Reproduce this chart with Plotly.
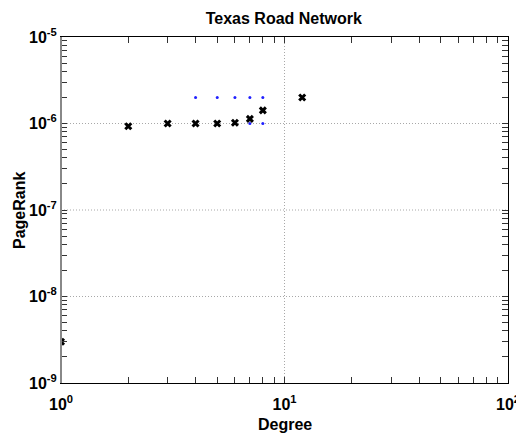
import plotly.graph_objects as go

# dados
degree = [1, 2, 3, 4, 5, 6, 7, 8, 12]
pagerank = [3.0e-9, 9.3e-7, 1.0e-6, 1.0e-6, 1.0e-6, 1.02e-6, 1.13e-6, 1.42e-6, 2.0e-6]

range_degree = [2, 4, 5, 6, 7, 8, 7, 8]
range_pagerank = [9.3e-7, 2.0e-6, 2.0e-6, 2.0e-6, 2.0e-6, 2.0e-6, 1.0e-6, 1.0e-6]

x_ticks = [1, 10, 100]
x_ticklabels = ["<b>10<sup>0</sup></b>", "<b>10<sup>1</sup></b>", "<b>10<sup>2</sup></b>"]
y_ticks = [1e-9, 1e-8, 1e-7, 1e-6, 1e-5]
y_ticklabels = ["<b>10<sup>-9</sup></b>", "<b>10<sup>-8</sup></b>", "<b>10<sup>-7</sup></b>",
                "<b>10<sup>-6</sup></b>", "<b>10<sup>-5</sup></b>"]

x_minor = [m * 10 ** k for k in range(0, 2) for m in range(2, 10)]
y_minor = [m * 10.0 ** k for k in range(-9, -5) for m in range(2, 10)]

fig = go.Figure()

fig.add_trace(go.Scatter(
    x=range_degree, y=range_pagerank, mode='markers',
    marker=dict(symbol='circle', size=3, color='#2020ff'),
    showlegend=False
))

fig.add_trace(go.Scatter(
    x=degree, y=pagerank, mode='markers',
    marker=dict(symbol='x-thin', size=6, color='black',
                line=dict(width=3, color='black')),
    showlegend=False
))

tick_font = dict(family='Liberation Sans, Arial', size=16, color='black')

# marcas maiores e menores no mesmo eixo; texto vazio nas menores
x_all = x_ticks + x_minor
x_text = x_ticklabels + [''] * len(x_minor)
y_all = y_ticks + y_minor
y_text = y_ticklabels + [''] * len(y_minor)

# grade pontilhada só nas décadas
shapes = []
for v in x_ticks[1:-1]:
    shapes.append(dict(type='line', xref='x', yref='paper', x0=v, x1=v, y0=0, y1=1,
                       line=dict(color='#a8a8a8', width=1, dash='1px,2px'), layer='below'))
for v in y_ticks[1:-1]:
    shapes.append(dict(type='line', xref='paper', yref='y', x0=0, x1=1, y0=v, y1=v,
                       line=dict(color='#a8a8a8', width=1, dash='1px,2px'), layer='below'))
# eixo esquerdo cinza
shapes.append(dict(type='line', xref='paper', yref='paper', x0=0, x1=0, y0=0, y1=1,
                   line=dict(color='#888888', width=2)))

# a página tem 8px de margem no body, por isso a figura é menor
fig.update_layout(
    width=508, height=427,
    margin=dict(l=53, r=8, t=29, b=52),
    plot_bgcolor='white', paper_bgcolor='white',
    font=dict(family='Liberation Sans, Arial', color='black'),
    title=dict(text='<b>Texas Road Network</b>', x=0.543, xanchor='center',
               y=0.975, yanchor='middle', font=dict(size=16)),
    xaxis=dict(
        type='log', range=[0, 2], automargin=False,
        tickmode='array', tickvals=x_all, ticktext=x_text,
        tickfont=tick_font, ticks='inside', ticklen=6, tickwidth=1, tickcolor='#333333',
        ticklabeloverflow='allow', ticklabelstandoff=7,
        showline=True, linecolor='black', linewidth=1, mirror='allticks',
        showgrid=False, zeroline=False
    ),
    yaxis=dict(
        type='log', range=[-9, -5], automargin=False,
        tickmode='array', tickvals=y_all, ticktext=y_text,
        tickfont=tick_font, ticks='inside', ticklen=6, tickwidth=1, tickcolor='#333333',
        ticklabeloverflow='allow',
        showline=True, linecolor='black', linewidth=1, mirror='allticks',
        showgrid=False, zeroline=False
    ),
    shapes=shapes,
    annotations=[
        dict(text='<b>Degree</b>', xref='paper', yref='paper', x=0.5, y=-0.150,
             xanchor='center', yanchor='bottom', showarrow=False, font=dict(size=16)),
        dict(text='<b>PageRank</b>', xref='paper', yref='paper', x=-0.094, y=0.5,
             xanchor='center', yanchor='middle', textangle=-90, showarrow=False,
             font=dict(size=16)),
    ]
)

fig.write_html("out.html")
